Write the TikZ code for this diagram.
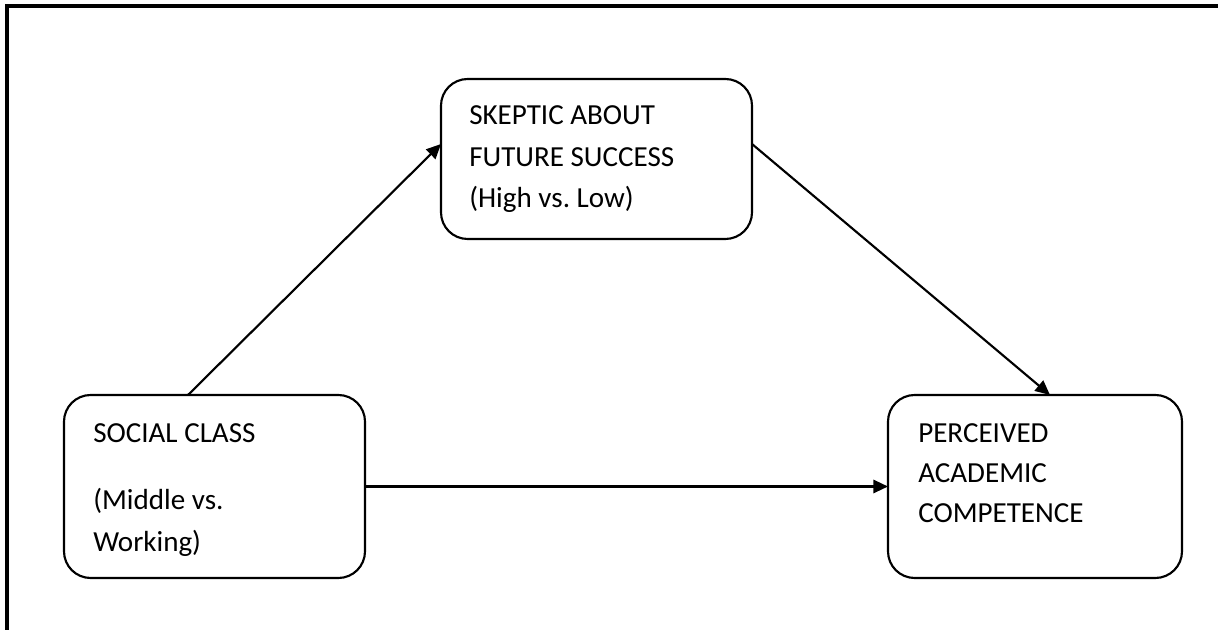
\documentclass[tikz,border=0pt]{standalone}
\usepackage{fontspec}
\setmainfont{Carlito}
\usetikzlibrary{arrows.meta}
\frenchspacing
\tikzset{
  box/.style={draw, line width=1.6pt, rounded corners=20pt, inner sep=0pt, outer sep=0pt},
  txt/.style={anchor=base west, inner sep=0pt, font=\fontsize{21.8pt}{30pt}\selectfont},
  conn/.style={line width=1.6pt, -{Triangle[length=11pt,width=10pt]}},
  frame/.style={line width=2.6pt}
}
\begin{document}
\begin{tikzpicture}[x=0.75pt, y=-0.75pt]
\useasboundingbox (0,0) rectangle (1218,630);
% outer frame (top and left edges)
\draw[frame] (1218,6) -- (7,6) -- (7,630);
% boxes
\node[box, minimum width=225.75pt, minimum height=137.25pt] (social) at (214.5,486.5) {};
\node[box, minimum width=233.25pt, minimum height=120pt] (skeptic) at (596.5,159) {};
\node[box, minimum width=220.5pt, minimum height=137.25pt] (perceived) at (1035,486.5) {};
% texts
\node[txt] (s1) at (93,443) {SOCIAL CLASS};
\node[txt] (s2) at (93,510) {(Middle vs.};
\node[txt] (s3) at (93,552) {Working)};
\node[txt] (k1) at (469,125) {SKEPTIC ABOUT};
\node[txt] (k2) at (469,167) {FUTURE SUCCESS};
\node[txt] (k3) at (469,208) {(High vs.\ Low)};
\node[txt] (p1) at (918,443) {PERCEIVED};
\node[txt] (p2) at (918,483) {ACADEMIC};
\node[txt] (p3) at (918,523) {COMPETENCE};
% connectors
\draw[conn] ([xshift=93pt]social.north west) -- ([yshift=11.25pt]skeptic.west);
\draw[conn] ([yshift=11.25pt]skeptic.east) -- ([xshift=121.5pt]perceived.north west);
\draw[conn] (social.east) -- (perceived.west);
\end{tikzpicture}
\end{document}
